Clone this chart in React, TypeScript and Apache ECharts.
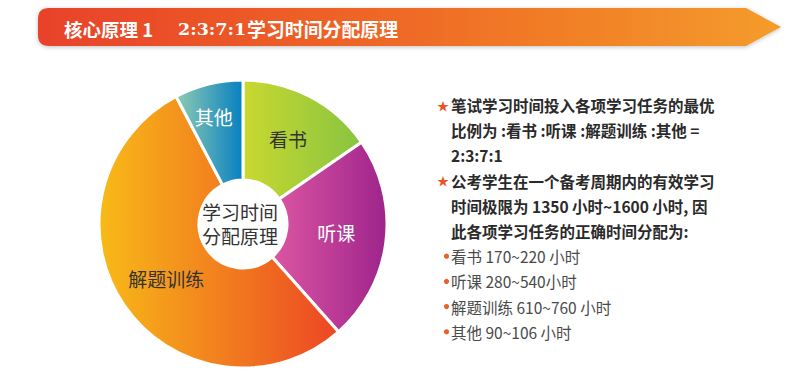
import React, { useEffect, useRef } from "react";
import * as echarts from "echarts";

const categories = ["看书", "听课", "解题训练", "其他"];
const ratioValues = [2, 3, 7, 1];
const sliceGradients = [
  ["#c9d82f", "#88c441"],
  ["#dc56a2", "#9e248c"],
  ["#f8ba18", "#ec4624"],
  ["#8fcab3", "#0680c1"],
];
const labelColors = ["#333333", "#ffffff", "#333333", "#ffffff"];
const centerTitleLines = ["学习时间", "分配原理"];
const bannerParts = ["核心原理 1", "2:3:7:1", "学习时间分配原理"];
const noteMarks = ["star", "", "", "star", "", "", "dot", "dot", "dot", "dot"];
const noteTexts = [
  "笔试学习时间投入各项学习任务的最优",
  "比例为 :看书 :听课 :解题训练 :其他 =",
  "2:3:7:1",
  "公考学生在一个备考周期内的有效学习",
  "时间极限为 1350 小时~1600 小时, 因",
  "此各项学习任务的正确时间分配为:",
  "看书 170~220 小时",
  "听课 280~540小时",
  "解题训练 610~760 小时",
  "其他 90~106 小时",
];
const noteBold = [true, true, true, true, true, true, false, false, false, false];

const bannerPath =
  "M49,8 L746,8 L781,27 L746,46 L49,46 Q38,46 38,35 L38,19 Q38,8 49,8 Z";

export default function App() {
  const ref = useRef<HTMLDivElement>(null);
  useEffect(() => {
    document.body.style.margin = "0";
    if (!ref.current) return;
    echarts.graphic.registerShape("banner", echarts.graphic.extendPath(bannerPath, {}) as any);
    const chart = echarts.init(ref.current, null, { renderer: "svg" });
    const font = "'Noto Sans CJK SC', 'Noto Sans', sans-serif";
    const serif = "'DejaVu Serif', 'Liberation Serif', serif";

    const labelOffsets = [[0, 0], [-3, -3], [3, -1], [-6, -13]];
    const pieData = categories.map((name, i) => ({
      name,
      value: ratioValues[i],
      itemStyle: {
        color: new echarts.graphic.LinearGradient(0, 0, 1, 0, [
          { offset: 0, color: sliceGradients[i][0] },
          { offset: 1, color: sliceGradients[i][1] },
        ]),
      },
      label: { color: labelColors[i], offset: labelOffsets[i] },
    }));

    const lineStep = 25.2;
    const noteGraphics: any[] = [];
    noteTexts.forEach((t, i) => {
      const y = 105 + i * lineStep;
      if (noteMarks[i] === "dot") {
        noteGraphics.push({
          type: "circle",
          shape: { cx: 446.5, cy: y, r: 2.6 },
          style: { fill: "#e8602a" },
        });
      }
      noteGraphics.push({
        type: "text",
        x: noteMarks[i] === "star" ? 437 : 451,
        y,
        style: {
          text: (noteMarks[i] === "star" ? "{m|★}" : "") + `{t|${t}}`,
          verticalAlign: "middle",
          rich: {
            m: { fill: "#e8532a", fontSize: 12, width: 14, fontFamily: font },
            t: {
              fill: noteBold[i] ? "#2a2a2a" : "#4a4a4a",
              fontSize: 15.5,
              fontWeight: noteBold[i] ? "bold" : "normal",
              fontFamily: font,
            },
          },
        },
      });
    });

    chart.setOption({
      animation: false,
      backgroundColor: "#ffffff",
      series: [
        {
          type: "pie",
          center: [243, 224],
          radius: [44, 144],
          startAngle: 90,
          clockwise: true,
          avoidLabelOverlap: false,
          itemStyle: { borderColor: "#ffffff", borderWidth: 3 },
          label: {
            show: true,
            position: "inside",
            fontSize: 19,
            fontFamily: font,
            formatter: "{b}",
          },
          labelLine: { show: false },
          emphasis: { disabled: true },
          data: pieData,
        },
      ],
      graphic: [
        {
          type: "banner",
          x: 0,
          y: 0,
          style: {
            fill: new echarts.graphic.LinearGradient(0, 0, 1, 0, [
              { offset: 0, color: "#e8422a" },
              { offset: 0.5, color: "#ef6a25" },
              { offset: 1, color: "#f49c2b" },
            ]),
            shadowBlur: 4,
            shadowOffsetY: 1,
            shadowColor: "rgba(0,0,0,0.25)",
          },
        },
        {
          type: "text",
          x: 64,
          y: 28.5,
          style: {
            text: `{a|${bannerParts[0]}}{b|${bannerParts[1]}}{c|${bannerParts[2]}}`,
            verticalAlign: "middle",
            rich: {
              a: { fill: "#ffffff", fontSize: 18.5, fontWeight: "bold", fontFamily: font, width: 114 },
              b: { fill: "#ffffff", fontSize: 17.5, fontWeight: "bold", fontFamily: serif, width: 69 },
              c: { fill: "#ffffff", fontSize: 18.9, fontWeight: "bold", fontFamily: font },
            },
          },
        },
        ...centerTitleLines.map((t, i) => ({
          type: "text",
          x: 240,
          y: 211.5 + i * 24,
          style: {
            text: t,
            fill: "#333333",
            fontSize: 19,
            fontFamily: font,
            align: "center",
            verticalAlign: "middle",
          },
        })),
        ...noteGraphics,
      ],
    });
    return () => chart.dispose();
  }, []);
  return <div ref={ref} style={{ width: 804, height: 382 }} />;
}
